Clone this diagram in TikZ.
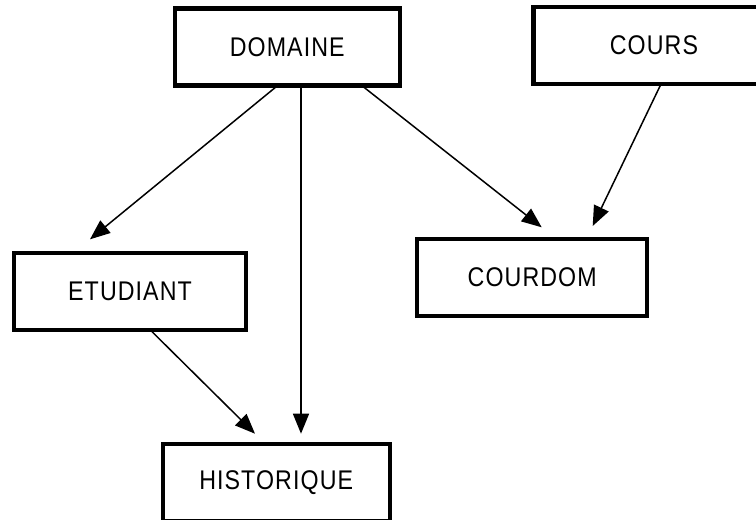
\documentclass[tikz,border=0pt]{standalone}
\usepackage{fontspec}
\setmainfont{Liberation Sans}[FakeStretch=0.86,LetterSpace=4]
\usetikzlibrary{arrows.meta}

\begin{document}
\begin{tikzpicture}[x=1pt,y=-1pt]
      \useasboundingbox (0,0) rectangle (756,520);
      \clip (0,0) rectangle (756,520);
      \begin{scope}[every node/.style={rectangle,draw,line width=4.2pt,inner sep=0pt,outer sep=0pt,
          minimum height=77pt,font=\fontsize{27}{30}\selectfont}]
        \node[minimum width=225pt] (dom) at (287.2,47) {DOMAINE};
        \node[minimum width=241pt] (cours) at (654,45.5) {COURS};
        \node[minimum width=232.6pt] (etu) at (130,291.2) {ETUDIANT};
        \node[minimum width=230.3pt] (cdom) at (532.2,277.2) {COURDOM};
        \node[minimum width=227pt] (hist) at (276.2,482.5) {HISTORIQUE};
      \end{scope}
      \begin{scope}[every edge/.style={draw,line width=1.5pt,-{Triangle[length=20pt,width=16pt]}}]
        \path ([xshift=-9.5pt]dom.south) edge ([xshift=-40pt,yshift=13.4pt]etu.north);
        \path ([xshift=13.8pt]dom.south) edge ([xshift=24.8pt,yshift=10.3pt]hist.north);
        \path ([xshift=74.5pt]dom.south) edge ([xshift=9.5pt,yshift=11.4pt]cdom.north);
        \path ([xshift=7pt]cours.south) edge ([xshift=60.5pt,yshift=12.7pt]cdom.north);
        \path ([xshift=20pt]etu.south) edge ([xshift=-21.2pt,yshift=10.3pt]hist.north);
      \end{scope}
    \end{tikzpicture}
\end{document}
